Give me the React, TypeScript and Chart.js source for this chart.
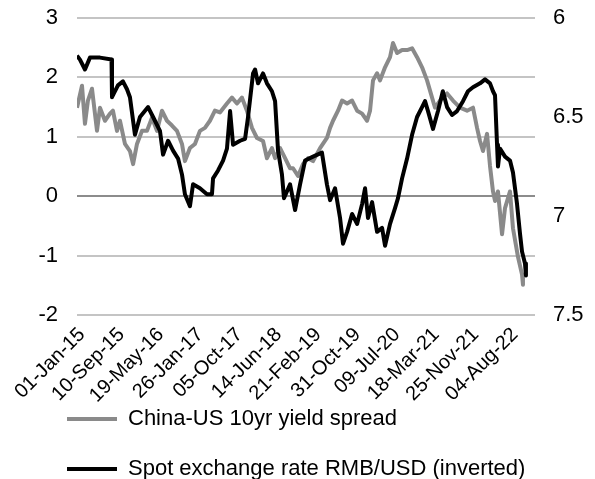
import React, { useEffect, useRef } from 'react';
import { Chart, registerables } from 'chart.js';

Chart.register(...registerables);

const seriesNames = ['China-US 10yr yield spread', 'Spot exchange rate RMB/USD (inverted)'];

const spreadDates = [
  '2015-01-01', '2015-02-02', '2015-02-21', '2015-03-12', '2015-04-07', '2015-05-09', '2015-05-28', '2015-06-29',
  '2015-07-31', '2015-08-19', '2015-09-14', '2015-10-03', '2015-11-04', '2015-12-06', '2015-12-26', '2016-01-20',
  '2016-02-21', '2016-03-24', '2016-04-25', '2016-05-27', '2016-06-28', '2016-07-30', '2016-08-31', '2016-10-02',
  '2016-11-03', '2016-11-22', '2016-12-24', '2017-01-25', '2017-02-26', '2017-03-30', '2017-05-01', '2017-06-02',
  '2017-07-04', '2017-08-18', '2017-09-19', '2017-10-21', '2017-11-22', '2017-12-24', '2018-01-25', '2018-02-26',
  '2018-04-06', '2018-05-01', '2018-06-02', '2018-06-22', '2018-07-24', '2018-08-25', '2018-09-26', '2018-10-15',
  '2018-11-16', '2018-12-18', '2019-01-19', '2019-02-20', '2019-04-06', '2019-05-20', '2019-06-09', '2019-06-28',
  '2019-07-30', '2019-08-25', '2019-09-26', '2019-10-28', '2019-11-29', '2019-12-31', '2020-02-01', '2020-02-20',
  '2020-03-10', '2020-04-05', '2020-04-24', '2020-05-26', '2020-06-27', '2020-07-16', '2020-08-11', '2020-09-12',
  '2020-10-14', '2020-11-15', '2020-12-17', '2021-01-18', '2021-02-19', '2021-03-23', '2021-04-11', '2021-05-13',
  '2021-06-27', '2021-08-04', '2021-09-18', '2021-11-02', '2021-12-10', '2022-01-05', '2022-01-24', '2022-02-12',
  '2022-03-10', '2022-03-29', '2022-04-17', '2022-04-30', '2022-05-19', '2022-06-14', '2022-07-03', '2022-08-04',
  '2022-08-23', '2022-09-24', '2022-10-20', '2022-10-26',
];
const spreadValues = [
  1.49, 1.86, 1.22, 1.61, 1.81, 1.10, 1.49, 1.27,
  1.39, 1.44, 1.10, 1.27, 0.88, 0.76, 0.54, 0.88,
  1.10, 1.10, 1.32, 1.10, 1.44, 1.27, 1.19, 1.10,
  0.88, 0.59, 0.81, 0.88, 1.10, 1.15, 1.27, 1.44,
  1.41, 1.56, 1.66, 1.56, 1.66, 1.44, 1.15, 0.98,
  0.93, 0.64, 0.81, 0.64, 0.81, 0.64, 0.47, 0.47,
  0.34, 0.54, 0.64, 0.59, 0.81, 0.98, 1.15, 1.27,
  1.44, 1.61, 1.56, 1.61, 1.44, 1.39, 1.27, 1.44,
  1.95, 2.07, 1.95, 2.17, 2.34, 2.58, 2.41, 2.46,
  2.46, 2.49, 2.34, 2.17, 1.95, 1.66, 1.49, 1.61,
  1.73, 1.61, 1.49, 1.44, 1.49, 1.15, 0.93, 0.76,
  1.05, 0.51, 0.08, -0.08, 0.08, -0.64, -0.20, 0.08,
  -0.54, -1.02, -1.32, -1.49,
];

const fxDates = [
  '2015-01-01', '2015-01-20', '2015-02-21', '2015-03-25', '2015-05-28', '2015-08-10', '2015-08-13', '2015-09-20',
  '2015-10-22', '2015-11-17', '2015-12-06', '2016-01-07', '2016-02-08', '2016-03-31', '2016-05-02', '2016-06-15',
  '2016-07-05', '2016-08-06', '2016-09-07', '2016-10-09', '2016-11-03', '2016-11-22', '2016-12-24', '2017-01-13',
  '2017-02-26', '2017-04-12', '2017-05-14', '2017-05-21', '2017-06-22', '2017-07-24', '2017-08-18', '2017-09-07',
  '2017-09-26', '2017-11-10', '2017-12-12', '2017-12-31', '2018-02-01', '2018-02-14', '2018-03-05', '2018-04-06',
  '2018-05-01', '2018-06-02', '2018-06-22', '2018-07-11', '2018-08-05', '2018-08-18', '2018-09-26', '2018-10-28',
  '2018-11-29', '2018-12-31', '2019-02-20', '2019-04-18', '2019-05-20', '2019-06-09', '2019-07-11', '2019-08-12',
  '2019-08-31', '2019-09-26', '2019-10-28', '2019-11-29', '2019-12-31', '2020-01-19', '2020-02-07', '2020-03-04',
  '2020-04-05', '2020-05-07', '2020-05-26', '2020-06-27', '2020-07-29', '2020-08-17', '2020-09-12', '2020-10-14',
  '2020-11-15', '2020-12-17', '2021-01-18', '2021-02-06', '2021-02-25', '2021-03-29', '2021-04-30', '2021-05-31',
  '2021-06-27', '2021-07-29', '2021-08-30', '2021-10-07', '2021-11-08', '2021-12-10', '2022-01-24', '2022-02-25',
  '2022-03-29', '2022-04-17', '2022-04-30', '2022-05-13', '2022-05-19', '2022-06-01', '2022-07-03', '2022-08-04',
  '2022-08-23', '2022-09-18', '2022-10-07', '2022-10-20', '2022-11-08', '2022-11-14',
];
const fxValues = [
  6.19, 6.21, 6.26, 6.20, 6.20, 6.21, 6.40, 6.34,
  6.32, 6.36, 6.40, 6.59, 6.50, 6.45, 6.50, 6.57,
  6.69, 6.62, 6.67, 6.71, 6.79, 6.89, 6.95, 6.84,
  6.86, 6.89, 6.89, 6.81, 6.77, 6.72, 6.66, 6.47,
  6.64, 6.62, 6.61, 6.50, 6.28, 6.26, 6.33, 6.28,
  6.33, 6.37, 6.42, 6.67, 6.79, 6.91, 6.84, 6.97,
  6.84, 6.72, 6.70, 6.68, 6.84, 6.92, 6.86, 7.01,
  7.14, 7.08, 6.99, 7.04, 6.94, 6.86, 7.01, 6.93,
  7.08, 7.06, 7.15, 7.04, 6.96, 6.91, 6.81, 6.71,
  6.59, 6.50, 6.45, 6.42, 6.47, 6.56, 6.47, 6.37,
  6.45, 6.49, 6.47, 6.42, 6.37, 6.35, 6.33, 6.31,
  6.33, 6.37, 6.39, 6.64, 6.75, 6.66, 6.70, 6.72,
  6.78, 6.94, 7.09, 7.18, 7.24, 7.30,
];

const tickDates = [
  '2015-01-01', '2015-09-10', '2016-05-19', '2017-01-26', '2017-10-05', '2018-06-14',
  '2019-02-21', '2019-10-31', '2020-07-09', '2021-03-18', '2021-11-25', '2022-08-04',
];
const tickLabels = [
  '01-Jan-15', '10-Sep-15', '19-May-16', '26-Jan-17', '05-Oct-17', '14-Jun-18',
  '21-Feb-19', '31-Oct-19', '09-Jul-20', '18-Mar-21', '25-Nov-21', '04-Aug-22',
];
const axisStart = '2015-01-01';
const axisEnd = '2023-01-11';

const BASE = Date.UTC(2015, 0, 1);
const toDay = (s: string) => {
  const [y, m, d] = s.split('-').map(Number);
  return Math.round((Date.UTC(y, m - 1, d) - BASE) / 86400000);
};

const FONT = '"Liberation Sans", Arial, sans-serif';

export default function App() {
  const ref = useRef<HTMLCanvasElement>(null);
  useEffect(() => {
    if (!ref.current) return;
    const tickMap = new Map<number, string>();
    tickDates.forEach((d, i) => tickMap.set(toDay(d), tickLabels[i]));
    const chart = new Chart(ref.current, {
      type: 'line',
      data: {
        datasets: [
          {
            label: seriesNames[0],
            data: spreadDates.map((d, i) => ({ x: toDay(d), y: spreadValues[i] })),
            yAxisID: 'y',
            borderColor: '#8a8a8a',
            backgroundColor: '#8a8a8a',
            borderWidth: 4,
            pointRadius: 0,
            tension: 0,
            borderJoinStyle: 'round',
            order: 1,
          },
          {
            label: seriesNames[1],
            data: fxDates.map((d, i) => ({ x: toDay(d), y: fxValues[i] })),
            yAxisID: 'y1',
            borderColor: '#000000',
            backgroundColor: '#000000',
            borderWidth: 4,
            pointRadius: 0,
            tension: 0,
            borderJoinStyle: 'round',
            order: 0,
          },
        ],
      },
      options: {
        responsive: false,
        animation: false,
        layout: { padding: { left: 39, top: 18, right: 0, bottom: 0 } },
        scales: {
          x: {
            type: 'linear',
            min: toDay(axisStart),
            max: toDay(axisEnd),
            grid: { display: false, drawTicks: false },
            border: { display: false },
            afterBuildTicks: (scale: any) => {
              scale.ticks = tickDates.map((d) => ({ value: toDay(d) }));
            },
            afterFit: (scale: any) => {
              scale.height = 65;
              scale._computeLabelArea = () => undefined;
            },
            ticks: {
              autoSkip: false,
              minRotation: 45,
              maxRotation: 45,
              padding: 8,
              labelOffset: 5,
              color: '#000',
              font: { size: 20, family: FONT },
              callback: (v: any) => tickMap.get(Number(v)) ?? '',
            },
          },
          y: {
            position: 'left',
            min: -2,
            max: 3,
            border: { display: false },
            grid: {
              drawTicks: false,
              lineWidth: 2,
              color: (ctx: any) => (ctx.tick && ctx.tick.value === 0 ? '#8c8c8c' : '#c4c4c4'),
            },
            afterFit: (scale: any) => {
              scale.width = 38;
              scale.paddingTop = 0;
              scale.paddingBottom = 0;
            },
            ticks: {
              stepSize: 1,
              padding: 19,
              color: '#000',
              font: { size: 22, family: FONT },
            },
          },
          y1: {
            position: 'right',
            min: 6,
            max: 7.5,
            reverse: true,
            border: { display: false },
            grid: { display: false, drawTicks: false },
            afterFit: (scale: any) => {
              scale.width = 60;
              scale.paddingTop = 0;
              scale.paddingBottom = 0;
            },
            ticks: {
              stepSize: 0.5,
              padding: 18,
              color: '#000',
              font: { size: 22, family: FONT },
              callback: (v: any) => String(Number(v)),
            },
          },
        },
        plugins: {
          tooltip: { enabled: false },
          legend: {
            position: 'bottom',
            align: 'start',
            labels: {
              usePointStyle: true,
              pointStyle: 'line',
              pointStyleWidth: 50,
              padding: 28,
              color: '#000',
              font: { size: 22, family: FONT },
              sort: (a: any, b: any) => a.datasetIndex - b.datasetIndex,
            },
          },
        },
      },
    } as any);
    return () => chart.destroy();
  }, []);

  return (
    <div style={{ position: 'fixed', left: 0, top: 0, width: 595, height: 479, overflow: 'hidden', background: '#fff' }}>
      <canvas ref={ref} width={595} height={490} style={{ width: 595, height: 490, display: 'block' }} />
    </div>
  );
}
